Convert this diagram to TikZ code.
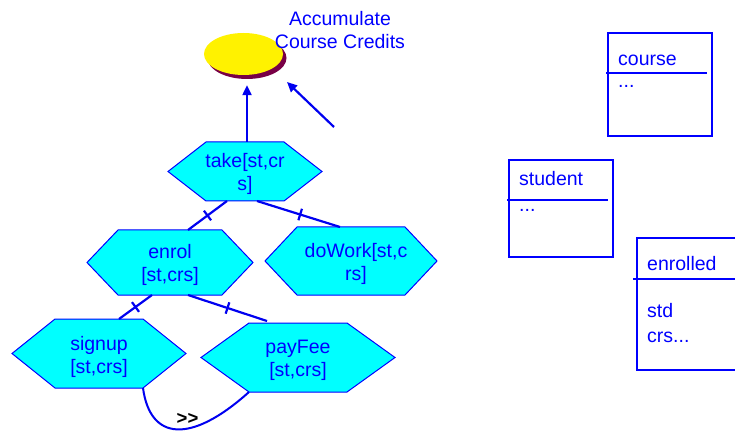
\documentclass[tikz,border=0pt]{standalone}
\usepackage{fontspec}
\setmainfont{Liberation Sans}
\usetikzlibrary{shapes.geometric,arrows.meta,decorations.markings,backgrounds,calc}
\definecolor{hexfill}{RGB}{0,255,255}
\definecolor{shadowc}{RGB}{120,0,70}
\definecolor{lineblue}{RGB}{0,0,240}
\definecolor{textblue}{RGB}{0,0,255}
\newcommand\hexagonof[2]{%
  \path[hexline] (#1.west) -- ([xshift=#2]#1.north west) -- ([xshift=-#2]#1.north east)
    -- (#1.east) -- ([xshift=-#2]#1.south east) -- ([xshift=#2]#1.south west) -- cycle;}
\begin{document}
\begin{tikzpicture}[x=1pt,y=-1pt,
  hexbox/.style={draw=none, rectangle, inner sep=0pt, outer sep=0pt},
  hexline/.style={fill=hexfill, draw=textblue, line width=1pt},
  lbl/.style={text=textblue, font=\fontsize{19.5}{23}\selectfont, align=center, inner sep=0pt},
  boxtxt/.style={text=textblue, font=\fontsize{19.5}{23}\selectfont, anchor=base west, inner sep=0pt},
  conn/.style={draw=lineblue, line width=2.2pt},
  arr/.style={conn, -{Triangle[length=10pt,width=9pt]}},
  tickat/.style={postaction={decorate}, decoration={markings,
     mark=at position #1 with {\draw[lineblue, line width=2.2pt] (0,-6pt) -- (0,6pt);}}},
  umlbox/.style={draw=textblue, line width=1.3pt}
]
\useasboundingbox (0,0) rectangle (735,435);

% goal ellipse
\fill[shadowc] (247,58) ellipse (39.5 and 21);
\node[ellipse, fill=yellow, minimum width=79pt, minimum height=42pt, inner sep=0pt] (goal) at (243.5,54) {};
\node[lbl] (goaltxt) at (340,30) {Accumulate\\Course Credits};

% hexagon nodes
\node[hexbox, minimum width=154pt, minimum height=59pt] (take) at (245,171.5) {};
\node[hexbox, minimum width=166pt, minimum height=65pt] (enrol) at (170,262.5) {};
\node[hexbox, minimum width=172pt, minimum height=68pt] (dowork) at (351,261) {};
\node[hexbox, minimum width=174pt, minimum height=69pt] (signup) at (99,353.5) {};
\node[hexbox, minimum width=194pt, minimum height=69pt] (payfee) at (298,357.5) {};
\begin{pgfonlayer}{background}
\hexagonof{take}{38pt}
\hexagonof{enrol}{31pt}
\hexagonof{dowork}{32pt}
\hexagonof{signup}{43pt}
\hexagonof{payfee}{48pt}
\end{pgfonlayer}
\node[lbl] (taketxt) at (245,173.5) {take[st,cr\\s]};
\node[lbl] (enroltxt) at (170,265) {enrol\\{}[st,crs]};
\node[lbl] (doworktxt) at (356,263.5) {doWork[st,c\\rs]};
\node[lbl] (signuptxt) at (99,356.5) {signup\\{}[st,crs]};
\node[lbl] (payfeetxt) at (298,360) {payFee\\{}[st,crs]};

% connectors
\draw[arr] ([xshift=2pt]take.north) -- ([xshift=3.5pt,yshift=-10pt]goal.south);
\coordinate (a2s) at (334,127);
\coordinate (a2e) at (287,82);
\draw[arr] (a2s) -- (a2e);
\draw[conn, tickat=0.5] ([xshift=-18pt]take.south) -- ([xshift=18pt]enrol.north);
\draw[conn, tickat=0.52] ([xshift=12pt]take.south) -- ([xshift=-11pt]dowork.north);
\draw[conn, tickat=0.5] ([xshift=-18pt]enrol.south) -- ([xshift=20pt]signup.north);
\draw[conn, tickat=0.5] ([xshift=18pt]enrol.south) -- ([xshift=-31pt,yshift=2pt]payfee.north);
\draw[lineblue, line width=2pt] ([xshift=-43pt]signup.south east) .. controls (150,440) and (190,445) .. ([xshift=48pt]payfee.south west);
\node[font=\bfseries\fontsize{18.5}{20}\selectfont, inner sep=0pt] (seq) at (187.5,419) {>{}>};

% UML boxes
\node[umlbox, minimum width=104pt, minimum height=103pt, inner sep=0pt] (course) at (660,84.5) {};
\draw[textblue, line width=1.3pt] (606,73) -- (707,73);
\node[boxtxt] (coursetxt) at (618,66) {course};
\node[boxtxt] (coursedots) at (618,88) {...};

\node[umlbox, minimum width=104pt, minimum height=97pt, inner sep=0pt] (student) at (561,208.5) {};
\draw[textblue, line width=1.3pt] (507,200) -- (608,200);
\node[boxtxt] (studenttxt) at (519,186) {student};
\node[boxtxt] (studentdots) at (519,212) {...};

\draw[umlbox] (740,238) -- (637,238) -- (637,370) -- (740,370);
\draw[textblue, line width=1.3pt] (633,279) -- (735,279);
\node[boxtxt] (enrolledtxt) at (647,270) {enrolled};
\node[boxtxt] (stdtxt) at (647,317) {std};
\node[boxtxt] (crstxt) at (647,342) {crs...};
\end{tikzpicture}
\end{document}
